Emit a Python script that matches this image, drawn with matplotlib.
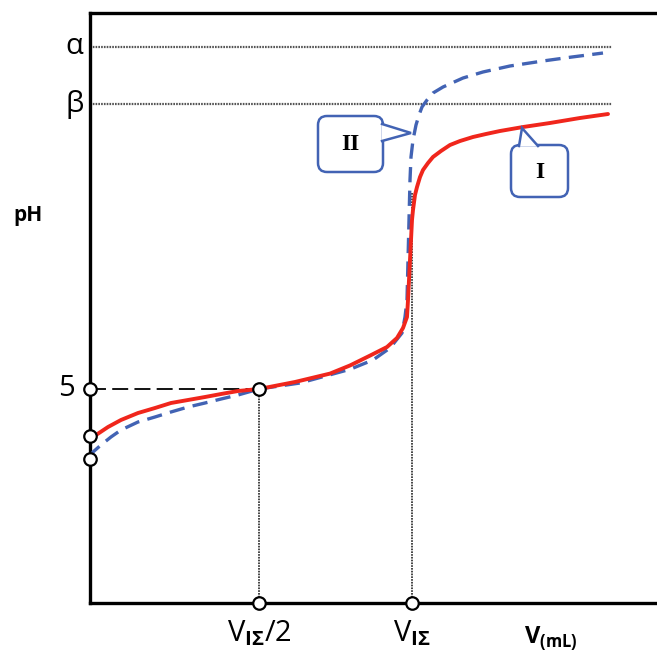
import numpy as np
import matplotlib
matplotlib.use("Agg")
import matplotlib.pyplot as plt
from matplotlib.patches import FancyBboxPatch, Polygon

plt.rcParams['font.family'] = ['Open Sans', 'DejaVu Sans']
plt.rcParams['mathtext.fontset'] = 'custom'
plt.rcParams['mathtext.rm'] = 'Open Sans'
plt.rcParams['mathtext.bf'] = 'Open Sans:bold'
plt.rcParams['lines.scale_dashes'] = False

# titration curves (V in mL, pH)
v_I = [0, 0.373, 1.118, 1.925, 2.981, 4.037, 5.031, 6.087, 7.143, 8.137, 9.193, 10.5,
       12.733, 14.907, 16.149, 17.391, 18.447, 19.068, 19.441, 19.689, 19.752, 19.814,
       19.876, 19.938, 20.0, 20.062, 20.186, 20.311, 20.497, 20.683, 20.994, 21.304,
       21.801, 22.36, 22.981, 23.789, 24.596, 25.466, 26.894, 28.571, 30.435, 32.174]
ph_I = [3.902, 3.925, 4.112, 4.276, 4.439, 4.556, 4.673, 4.743, 4.813, 4.883, 4.953, 5.0,
        5.164, 5.36, 5.55, 5.78, 5.981, 6.192, 6.425, 6.682, 7.079, 7.547,
        8.014, 8.481, 8.949, 9.182, 9.533, 9.72, 9.953, 10.117, 10.28, 10.421,
        10.561, 10.701, 10.794, 10.888, 10.958, 11.028, 11.121, 11.215, 11.332, 11.425]

v_II = [0, 0.186, 0.683, 1.304, 1.925, 2.981, 4.037, 5.031, 6.087, 7.143, 8.137, 9.193,
        10.5, 13.043, 16.149, 17.578, 18.634, 19.379, 19.565, 19.689, 19.752, 19.814,
        19.876, 19.938, 20.062, 20.248, 20.435, 20.621, 20.932, 21.304, 21.925, 23.168,
        24.41, 26.087, 28.137, 29.938, 31.863]
ph_II = [3.388, 3.528, 3.692, 3.879, 4.042, 4.229, 4.346, 4.463, 4.579, 4.673, 4.766, 4.86,
         5.0, 5.14, 5.46, 5.678, 5.958, 6.308, 6.682, 7.079, 8.014, 8.949,
         9.883, 10.421, 10.818, 11.168, 11.402, 11.589, 11.752, 11.916, 12.056, 12.266,
         12.407, 12.547, 12.664, 12.757, 12.85]

v_eq = 20.0
v_half = 10.5
ph_half = 5.0
ph_alpha = 13.0
ph_beta = 11.65
ph_start = [3.9, 3.36]

fig = plt.figure(figsize=(6.57, 6.54), dpi=100)
ax = fig.add_axes([90/657, 51/654, 567/657, 590/654])
ax.set_xlim(0, 567/16.1)
ax.set_ylim(0, 590/42.8)

red = '#f0261c'
blue = '#4263b4'

# guide lines
ax.plot([0, 32.4], [ph_alpha, ph_alpha], color='#555555', lw=1.6, ls=(0, (1.2, 0.8)))
ax.plot([0, 32.4], [ph_beta, ph_beta], color='#555555', lw=1.6, ls=(0, (1.2, 0.8)))
ax.plot([0, v_half], [ph_half, ph_half], color='black', lw=1.3, ls=(0, (11.5, 4.5)))
ax.plot([v_half, v_half], [0, ph_half], color='#444444', lw=1.4, ls=(0, (1.2, 0.8)))
ax.plot([v_eq, v_eq], [0, 9.6], color='#444444', lw=1.4, ls=(0, (1.2, 0.8)))

ax.plot(v_II, ph_II, color=blue, lw=2.4, ls=(0, (11, 6)), zorder=3)
ax.plot(v_I, ph_I, color=red, lw=2.8, zorder=4, solid_capstyle='round', solid_joinstyle='round')

# open circles
mk = dict(marker='o', ms=9, mfc='white', mec='black', mew=1.6, ls='none', clip_on=False, zorder=10)
ax.plot([0, 0, 0], [ph_half] + ph_start, **mk)
ax.plot([v_half, v_half, v_eq], [ph_half, 0, 0], **mk)

for s in ['left', 'top', 'bottom']:
    ax.spines[s].set_linewidth(2.4)
ax.spines['right'].set_visible(False)
ax.set_xticks([])
ax.set_yticks([])

ax.text(-1.45, ph_half, '5', fontsize=21, ha='center', va='center')
ax.text(-0.95, ph_alpha, 'α', fontsize=21, ha='center', va='center')
ax.text(-0.95, ph_beta, 'β', fontsize=21, ha='center', va='center')
ax.text(-3.85, 9.05, 'pH', fontsize=15, fontweight='bold', ha='center', va='center')
ax.text(v_half, -0.35, r'V$_{\mathbf{I\Sigma}}$/2', fontsize=21, ha='center', va='top')
ax.text(v_eq, -0.35, r'V$_{\mathbf{I\Sigma}}$', fontsize=21, ha='center', va='top')
ax.text(28.6, -0.98, r'$\mathbf{V}_{\mathbf{(mL)}}$', fontsize=17, ha='center', va='baseline')

# callouts in pixel coords
ov = fig.add_axes([0, 0, 1, 1])
ov.set_xlim(0, 657)
ov.set_ylim(654, 0)
ov.axis('off')
ov.patch.set_alpha(0)


def callout(x0, y0, x1, y1, tail, label):
    box = FancyBboxPatch((x0, y0), x1 - x0, y1 - y0, boxstyle='round,pad=0,rounding_size=9',
                         fc='white', ec=blue, lw=1.8, zorder=5)
    ov.add_patch(box)
    ov.add_patch(Polygon(tail, closed=True, fc='white', ec='none', zorder=7))
    ov.plot([tail[0][0], tail[1][0], tail[2][0]], [tail[0][1], tail[1][1], tail[2][1]],
            color=blue, lw=1.8, zorder=8, solid_joinstyle='miter')
    ov.text((x0 + x1) / 2, (y0 + y1) / 2 + 1, label, fontsize=17, fontweight='bold',
            family='Liberation Serif', ha='center', va='center', zorder=9)


callout(318, 116, 383, 172, [(382, 124), (411, 133), (382, 141)], 'II')
callout(511, 145, 568, 197, [(519, 146), (522, 128), (538, 146)], 'I')

fig.savefig('out.png', dpi=100)
